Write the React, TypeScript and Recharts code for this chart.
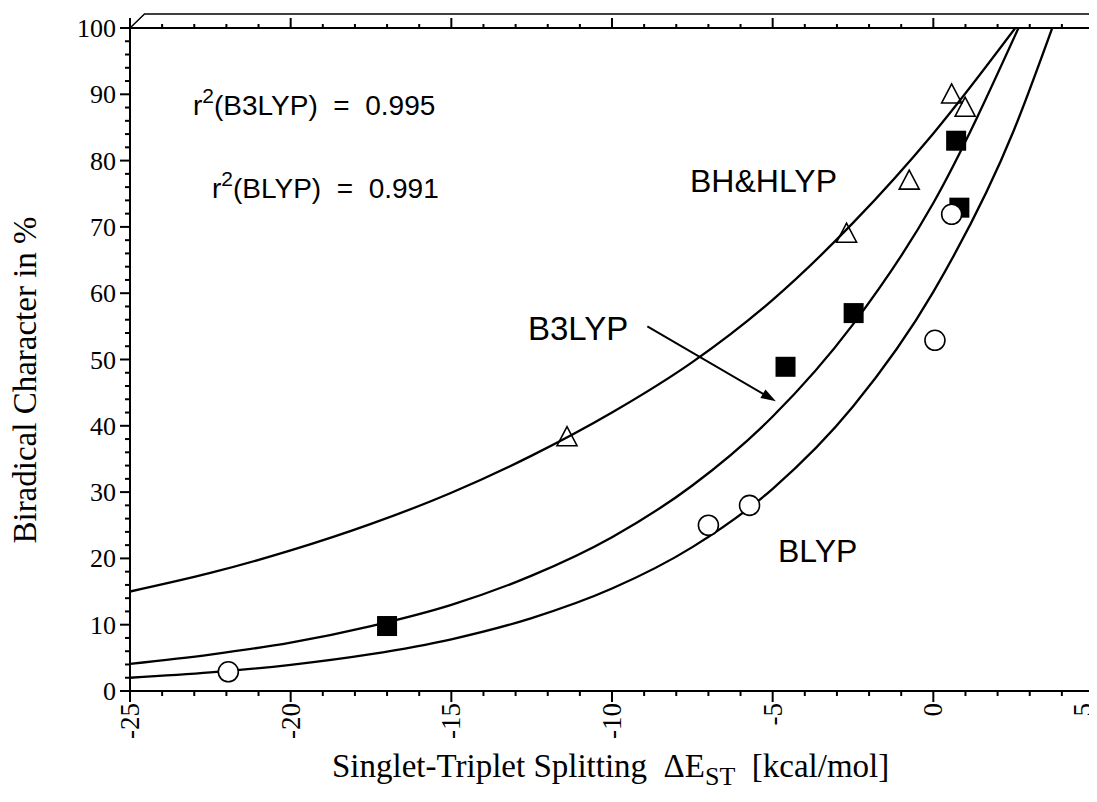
import React from 'react';
import { ComposedChart, Line, Scatter, XAxis, YAxis } from 'recharts';

// fitted curves
const bhhlypCurve = [
  { x: -25, y: 15.0 }, { x: -22.5, y: 17.8 }, { x: -20, y: 21.2 }, { x: -17.5, y: 25.2 },
  { x: -15, y: 29.9 }, { x: -12.5, y: 35.5 }, { x: -10, y: 42.0 }, { x: -7.5, y: 49.6 },
  { x: -5, y: 59.0 }, { x: -2.5, y: 70.6 }, { x: 0, y: 84.1 }, { x: 2.55, y: 100 },
];
const b3lypCurve = [
  { x: -25, y: 4.1 }, { x: -22.5, y: 5.5 }, { x: -20, y: 7.3 }, { x: -17.5, y: 9.8 },
  { x: -15, y: 13.0 }, { x: -12.5, y: 17.4 }, { x: -10, y: 23.2 }, { x: -7.5, y: 31.0 },
  { x: -5, y: 41.4 }, { x: -2.5, y: 55.3 }, { x: 0, y: 73.6 }, { x: 2.65, y: 100 },
];
const blypCurve = [
  { x: -25, y: 2.0 }, { x: -22.5, y: 2.8 }, { x: -20, y: 3.95 }, { x: -17.5, y: 5.56 },
  { x: -15, y: 7.8 }, { x: -12.5, y: 11.0 }, { x: -10, y: 15.45 }, { x: -7.5, y: 21.7 },
  { x: -5, y: 30.5 }, { x: -2.5, y: 42.9 }, { x: 0, y: 60.2 }, { x: 2.5, y: 84.5 }, { x: 3.7, y: 100 },
];

// measured points
const bhhlypPoints = [
  { x: -11.4, y: 38.2 }, { x: -2.7, y: 68.9 }, { x: -0.75, y: 76.9 }, { x: 0.57, y: 89.9 }, { x: 0.99, y: 87.9 },
];
const b3lypPoints = [
  { x: -17.0, y: 9.8 }, { x: -4.6, y: 48.9 }, { x: -2.48, y: 57.0 }, { x: 0.71, y: 83.0 }, { x: 0.81, y: 72.9 },
];
const blypPoints = [
  { x: -21.94, y: 2.9 }, { x: -7.0, y: 25.0 }, { x: -5.72, y: 28.0 }, { x: 0.05, y: 52.9 }, { x: 0.57, y: 71.9 },
];

const xMajor = [-25, -20, -15, -10, -5, 0, 5];
const yMajor = [0, 10, 20, 30, 40, 50, 60, 70, 80, 90, 100];
const xMinorStep = 1;
const yMinorStep = 2;

const range = (a: number, b: number, s: number) => {
  const out: number[] = [];
  for (let v = a; v <= b + 1e-9; v += s) out.push(Math.round(v * 100) / 100);
  return out;
};
const xTicks = range(-25, 5, xMinorStep);
const yTicks = range(0, 100, yMinorStep);

const W = 1089;
const H = 794;
const PLOT = { left: 122, right: 1086, top: 20, bottom: 683 };
const px = (x: number) => PLOT.left + ((x + 25) / 30) * (PLOT.right - PLOT.left);
const py = (y: number) => PLOT.bottom - (y / 100) * (PLOT.bottom - PLOT.top);

const SERIF = '"Liberation Serif", "Times New Roman", serif';
const SANS = '"Liberation Sans", Arial, sans-serif';

const BottomTick = ({ x, y, payload }: any) => {
  const major = xMajor.includes(payload.value);
  // last label sits at the page edge, nudge it in a little
  const bx = payload.value === 5 ? x - 2 : x + 9;
  return (
    <g>
      <line x1={x} x2={x} y1={y} y2={y + (major ? 11 : 5)} stroke="#000" strokeWidth={2} />
      {major && (
        <text
          transform={`translate(${bx},${y + 12}) rotate(-90)`}
          textAnchor="end"
          fontFamily={SERIF}
          fontSize={27}
          fill="#000"
        >
          {`${payload.value}`}
        </text>
      )}
    </g>
  );
};

const TopTick = ({ x, y, payload }: any) => {
  const major = xMajor.includes(payload.value);
  return <line x1={x} x2={x} y1={y} y2={y - (major ? 10 : 4)} stroke="#000" strokeWidth={2} />;
};

const LeftTick = ({ x, y, payload }: any) => {
  const major = yMajor.includes(payload.value);
  return (
    <g>
      <line x1={x} x2={x - (major ? 10 : 5)} y1={y} y2={y} stroke="#000" strokeWidth={2} />
      {major && (
        <text x={x - 14} y={y} dy={9} textAnchor="end" fontFamily={SERIF} fontSize={26} fill="#000">
          {payload.value}
        </text>
      )}
    </g>
  );
};

const RightTick = ({ x, y }: any) => (
  <line x1={x} x2={x + 5} y1={y} y2={y} stroke="#000" strokeWidth={1.5} />
);

const Triangle = ({ cx, cy }: any) => (
  <polygon
    points={`${cx},${cy - 11} ${cx - 10},${cy + 8} ${cx + 10},${cy + 8}`}
    fill="none"
    stroke="#000"
    strokeWidth={1.6}
  />
);
const Square = ({ cx, cy }: any) => <rect x={cx - 10} y={cy - 10} width={20} height={20} fill="#000" />;
const Circle = ({ cx, cy }: any) => <circle cx={cx} cy={cy} r={10} fill="#fff" stroke="#000" strokeWidth={1.6} />;

export default function App() {
  const a0 = { x: px(-8.9), y: py(55.0) };
  const a1 = { x: px(-4.9), y: py(43.7) };
  const ang = Math.atan2(a1.y - a0.y, a1.x - a0.x);
  const hl = 15;
  const hw = 5;
  const head = [
    [a1.x, a1.y],
    [a1.x - hl * Math.cos(ang) + hw * Math.sin(ang), a1.y - hl * Math.sin(ang) - hw * Math.cos(ang)],
    [a1.x - hl * Math.cos(ang) - hw * Math.sin(ang), a1.y - hl * Math.sin(ang) + hw * Math.cos(ang)],
  ]
    .map((p) => p.join(','))
    .join(' ');

  return (
    <div style={{ position: 'relative', width: W, height: H }}>
      <ComposedChart width={W} height={H} margin={{ top: 10, right: 0, bottom: 51, left: 62 }}>
        <XAxis
          dataKey="x"
          type="number"
          domain={[-25, 5]}
          ticks={xTicks}
          interval={0}
          allowDataOverflow
          height={60}
          tickSize={0}
          tickMargin={0}
          tickLine={false}
          axisLine={{ stroke: '#000', strokeWidth: 2 }}
          tick={<BottomTick />}
        />
        <XAxis
          xAxisId="top"
          orientation="top"
          dataKey="x"
          type="number"
          domain={[-25, 5]}
          ticks={xTicks}
          interval={0}
          allowDataOverflow
          height={10}
          tickSize={0}
          tickMargin={0}
          tickLine={false}
          axisLine={{ stroke: '#000', strokeWidth: 2 }}
          tick={<TopTick />}
        />
        <YAxis
          type="number"
          domain={[0, 100]}
          ticks={yTicks}
          interval={0}
          allowDataOverflow
          width={60}
          tickSize={0}
          tickMargin={0}
          tickLine={false}
          axisLine={{ stroke: '#000', strokeWidth: 2 }}
          tick={<LeftTick />}
        />
        <YAxis
          yAxisId="right"
          orientation="right"
          type="number"
          domain={[0, 100]}
          ticks={yTicks}
          interval={0}
          allowDataOverflow
          width={3}
          tickSize={0}
          tickMargin={0}
          tickLine={false}
          axisLine={{ stroke: '#000', strokeWidth: 3 }}
          tick={<RightTick />}
        />
        <Scatter data={b3lypPoints} dataKey="y" shape={Square} isAnimationActive={false} />
        <Scatter data={blypPoints} dataKey="y" shape={Circle} isAnimationActive={false} />
        <Line data={bhhlypCurve} dataKey="y" type="monotone" stroke="#000" strokeWidth={2.3} dot={false} activeDot={false} isAnimationActive={false} />
        <Line data={b3lypCurve} dataKey="y" type="monotone" stroke="#000" strokeWidth={2.3} dot={false} activeDot={false} isAnimationActive={false} />
        <Line data={blypCurve} dataKey="y" type="monotone" stroke="#000" strokeWidth={2.3} dot={false} activeDot={false} isAnimationActive={false} />
        <Scatter data={bhhlypPoints} dataKey="y" shape={Triangle} isAnimationActive={false} />
      </ComposedChart>

      <svg
        width={W}
        height={H}
        style={{ position: 'absolute', left: 0, top: 0, pointerEvents: 'none', overflow: 'visible' }}
      >
        {/* offset frame above the top axis */}
        <polyline
          points={`${PLOT.left},${PLOT.top} ${PLOT.left + 14.5},${PLOT.top - 14} ${W},${PLOT.top - 14}`}
          fill="none"
          stroke="#000"
          strokeWidth={1.5}
        />

        <text x={185} y={107} fontFamily={SANS} fontSize={28} fill="#000" style={{ whiteSpace: 'pre' }}>
          r<tspan dy={-12} fontSize={21}>2</tspan>
          <tspan dy={12}>(B3LYP)  =  0.995</tspan>
        </text>
        <text x={204} y={190} fontFamily={SANS} fontSize={28} fill="#000" style={{ whiteSpace: 'pre' }}>
          r<tspan dy={-12} fontSize={21}>2</tspan>
          <tspan dy={12}>(BLYP)  =  0.991</tspan>
        </text>

        <text x={682} y={184} fontFamily={SANS} fontSize={32} fill="#000">BH&amp;HLYP</text>
        <text x={520} y={332} fontFamily={SANS} fontSize={33} fill="#000">B3LYP</text>
        <text x={770} y={554} fontFamily={SANS} fontSize={32} fill="#000">BLYP</text>

        <line x1={a0.x} y1={a0.y} x2={a1.x - 10 * Math.cos(ang)} y2={a1.y - 10 * Math.sin(ang)} stroke="#000" strokeWidth={2} />
        <polygon points={head} fill="#000" />

        <text
          transform={`translate(28,372) rotate(-90)`}
          textAnchor="middle"
          fontFamily={SERIF}
          fontSize={33}
          fill="#000"
        >
          Biradical Character in %
        </text>
        <text x={324} y={769} fontFamily={SERIF} fontSize={33} fill="#000" style={{ whiteSpace: 'pre' }}>
          Singlet-Triplet Splitting  ΔE<tspan dy={8} fontSize={26}>ST</tspan>
          <tspan dy={-8}>  [kcal/mol]</tspan>
        </text>
      </svg>
    </div>
  );
}
